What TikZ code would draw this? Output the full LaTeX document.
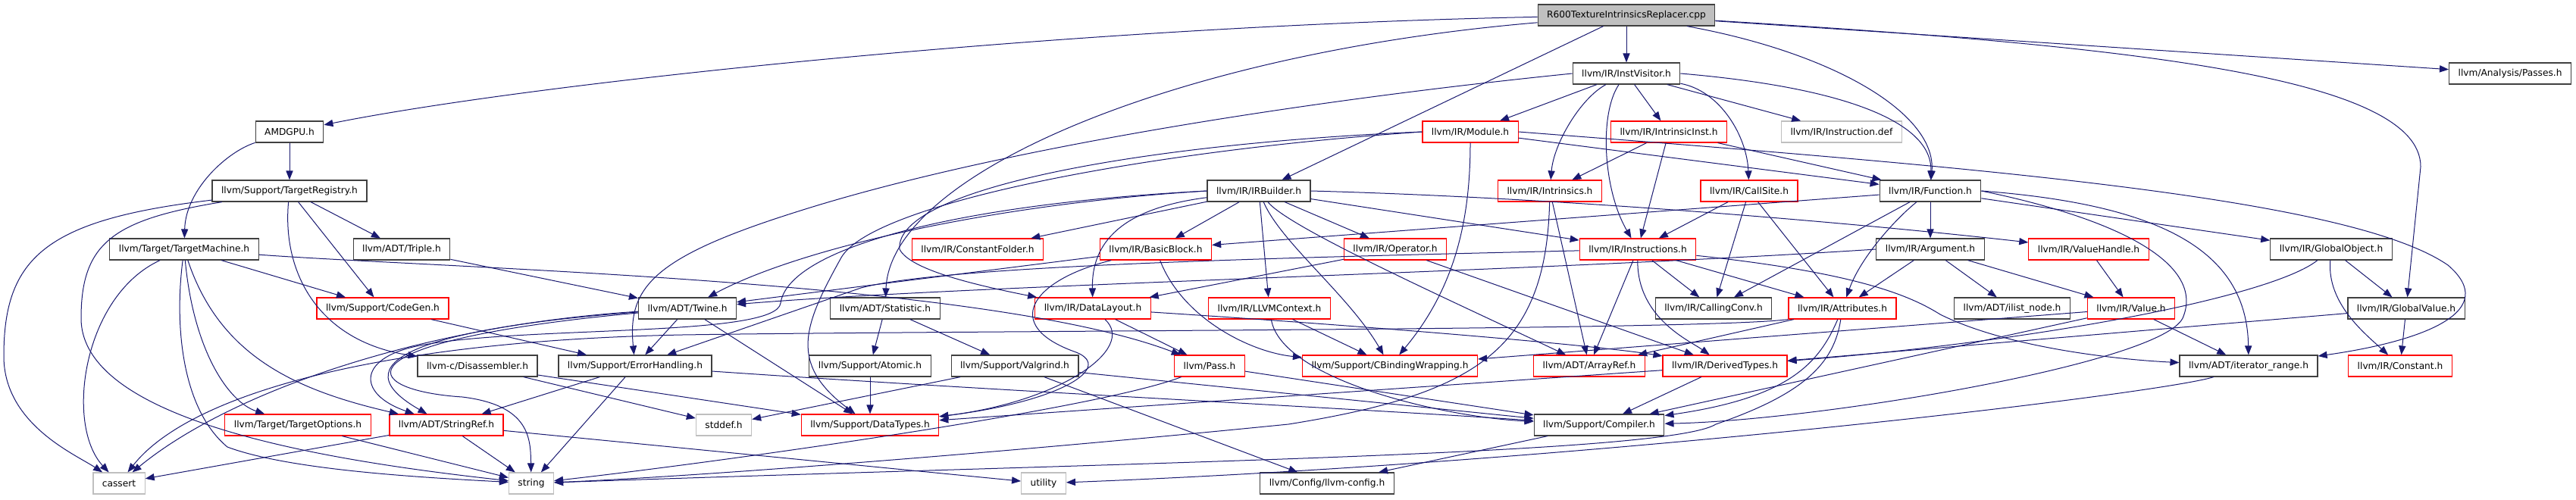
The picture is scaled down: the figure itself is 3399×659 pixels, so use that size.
\documentclass[tikz,border=0pt]{standalone}
\usepackage{fontspec}
\setmainfont{DejaVu Sans}
\usetikzlibrary{arrows.meta}
\definecolor{edgeblue}{RGB}{25,25,112}
\definecolor{sysgray}{RGB}{191,191,191}

\begin{document}
\begin{tikzpicture}[
    x=0.5pt, y=-0.5pt,
    hdr/.style={rectangle, draw=black!75, fill=white, line width=0.6pt, minimum height=14pt, inner xsep=6pt, inner ysep=0pt, font=\fontsize{6.1pt}{7pt}\selectfont},
    trunc/.style={hdr, draw=red},
    sys/.style={hdr, draw=sysgray},
    rootfile/.style={hdr, fill=sysgray},
    dep/.style={edgeblue, line width=0.5pt, -{Triangle[length=6pt,width=4.6pt]}}
]
    \useasboundingbox (0,0) rectangle (3399,659);

    % --- rank 0 ---
    \node[rootfile] (root) at (2146,20) {R600TextureIntrinsicsReplacer.cpp};

    % --- rank 1 ---
    \node[hdr] (instvisitor) at (2146,97) {llvm/IR/InstVisitor.h};
    \node[hdr] (passes)      at (3312,97) {llvm/Analysis/Passes.h};

    % --- rank 2 ---
    \node[hdr]   (amdgpu)        at (382,174)  {AMDGPU.h};
    \node[trunc] (module)        at (1940,174) {llvm/IR/Module.h};
    \node[trunc] (intrinsicinst) at (2202,174) {llvm/IR/IntrinsicInst.h};
    \node[sys]   (instdef)       at (2430,174) {llvm/IR/Instruction.def};

    % --- rank 3 ---
    \node[hdr]   (targetregistry) at (382,252)  {llvm/Support/TargetRegistry.h};
    \node[hdr]   (irbuilder)      at (1661,252) {llvm/IR/IRBuilder.h};
    \node[trunc] (intrinsics)     at (2045,252) {llvm/IR/Intrinsics.h};
    \node[trunc] (callsite)       at (2308,252) {llvm/IR/CallSite.h};
    \node[hdr]   (function)       at (2547,252) {llvm/IR/Function.h};

    % --- rank 4 ---
    \node[hdr]   (targetmachine)  at (243,329)  {llvm/Target/TargetMachine.h};
    \node[hdr]   (triple)         at (530,329)  {llvm/ADT/Triple.h};
    \node[trunc] (constantfolder) at (1290,329) {llvm/IR/ConstantFolder.h};
    \node[trunc] (basicblock)     at (1525,329) {llvm/IR/BasicBlock.h};
    \node[trunc] (operator)       at (1841,329) {llvm/IR/Operator.h};
    \node[trunc] (instructions)   at (2161,329) {llvm/IR/Instructions.h};
    \node[hdr]   (argument)       at (2547,329) {llvm/IR/Argument.h};
    \node[trunc] (valuehandle)    at (2756,329) {llvm/IR/ValueHandle.h};
    \node[hdr]   (globalobject)   at (3076,329) {llvm/IR/GlobalObject.h};

    % --- rank 5 ---
    \node[trunc] (codegen)     at (505,407)  {llvm/Support/CodeGen.h};
    \node[hdr]   (twine)       at (907,407)  {llvm/ADT/Twine.h};
    \node[hdr]   (statistic)   at (1168,407) {llvm/ADT/Statistic.h};
    \node[trunc] (datalayout)  at (1442,407) {llvm/IR/DataLayout.h};
    \node[trunc] (llvmcontext) at (1675,407) {llvm/IR/LLVMContext.h};
    \node[hdr]   (callingconv) at (2261,407) {llvm/IR/CallingConv.h};
    \node[trunc] (attributes)  at (2431,407) {llvm/IR/Attributes.h};
    \node[hdr]   (ilistnode)   at (2655,407) {llvm/ADT/ilist\_node.h};
    \node[trunc] (value)       at (2812,407) {llvm/IR/Value.h};
    \node[hdr]   (globalvalue) at (3175,407) {llvm/IR/GlobalValue.h};

    % --- rank 6 ---
    \node[hdr]   (disassembler)  at (630,483)  {llvm-c/Disassembler.h};
    \node[hdr]   (errorhandling) at (838,483)  {llvm/Support/ErrorHandling.h};
    \node[hdr]   (atomic)        at (1148,483) {llvm/Support/Atomic.h};
    \node[hdr]   (valgrind)      at (1339,483) {llvm/Support/Valgrind.h};
    \node[trunc] (pass)          at (1596,483) {llvm/Pass.h};
    \node[trunc] (cbinding)      at (1834,483) {llvm/Support/CBindingWrapping.h};
    \node[trunc] (arrayref)      at (2097,483) {llvm/ADT/ArrayRef.h};
    \node[trunc] (derivedtypes)  at (2276,483) {llvm/IR/DerivedTypes.h};
    \node[hdr]   (iterrange)     at (2967,483) {llvm/ADT/iterator\_range.h};
    \node[trunc] (constant)      at (3167,483) {llvm/IR/Constant.h};

    % --- rank 7 ---
    \node[trunc] (targetoptions) at (393,561)  {llvm/Target/TargetOptions.h};
    \node[trunc] (stringref)     at (589,561)  {llvm/ADT/StringRef.h};
    \node[sys]   (stddef)        at (955,561)  {stddef.h};
    \node[trunc] (datatypes)     at (1148,561) {llvm/Support/DataTypes.h};
    \node[hdr]   (compiler)      at (2110,561) {llvm/Support/Compiler.h};

    % --- rank 8 ---
    \node[sys] (cassert)    at (157,638)  {cassert};
    \node[sys] (string)     at (701,638)  {string};
    \node[sys] (utility)    at (1377,638) {utility};
    \node[hdr] (llvmconfig) at (1751,638) {llvm/Config/llvm-config.h};

    % --- from the .cpp file ---
    \draw[dep] (root) .. controls (1400,35) and (700,110) .. (amdgpu);
    \draw[dep] (root) .. controls (1550,70) and (1175,230) .. (statistic);
    \draw[dep] (root) -- (irbuilder);
    \draw[dep] (root) -- (instvisitor);
    \draw[dep] (root) .. controls (2420,70) and (2555,150) .. (function);
    \draw[dep] (root) -- (passes);
    \draw[dep] (root) .. controls (2800,60) and (3194,100) .. (3194,220) -- (globalvalue);

    % --- AMDGPU.h and the target headers ---
    \draw[dep] (amdgpu) -- (targetregistry);
    \draw[dep] (amdgpu) .. controls (300,200) and (245,250) .. (targetmachine);
    \draw[dep] (targetregistry) -- (triple);
    \draw[dep] (targetregistry) .. controls (372,360) and (420,450) .. (disassembler);
    \draw[dep] (targetregistry) -- (codegen);
    \draw[dep] (targetregistry) .. controls (60,290) and (5,340) .. (5,470) .. controls (5,560) and (100,600) .. (cassert);
    \draw[dep] (targetregistry) .. controls (150,290) and (107,320) .. (107,420) .. controls (107,560) and (450,610) .. (string);
    \draw[dep] (targetmachine) .. controls (110,390) and (85,560) .. (cassert);
    \draw[dep] (targetmachine) .. controls (230,430) and (240,540) .. (300,590) .. controls (380,620) and (550,630) .. (string);
    \draw[dep] (targetmachine) .. controls (255,460) and (300,530) .. (targetoptions);
    \draw[dep] (targetmachine) .. controls (290,470) and (390,515) .. (stringref);
    \draw[dep] (targetmachine) -- (codegen);
    \draw[dep] (targetmachine) .. controls (600,355) and (1300,370) .. (pass);
    \draw[dep] (triple) -- (twine);
    \draw[dep] (codegen) -- (errorhandling);
    \draw[dep] (disassembler) -- (stddef);
    \draw[dep] (disassembler) -- (datatypes);
    \draw[dep] (targetoptions) -- (string);

    % --- ADT and Support ---
    \draw[dep] (twine) -- (errorhandling);
    \draw[dep] (twine) -- (datatypes);
    \draw[dep] (twine) .. controls (600,430) and (430,470) .. (stringref);
    \draw[dep] (twine) .. controls (550,430) and (300,520) .. (cassert);
    \draw[dep] (twine) .. controls (440,450) and (470,515) .. (610,524) .. controls (700,535) and (700,580) .. (string);
    \draw[dep] (errorhandling) -- (stringref);
    \draw[dep] (errorhandling) -- (string);
    \draw[dep] (errorhandling) .. controls (1300,515) and (1800,540) .. (compiler);
    \draw[dep] (stringref) -- (cassert);
    \draw[dep] (stringref) -- (string);
    \draw[dep] (stringref) -- (utility);
    \draw[dep] (statistic) -- (atomic);
    \draw[dep] (statistic) -- (valgrind);
    \draw[dep] (atomic) -- (datatypes);
    \draw[dep] (valgrind) -- (stddef);
    \draw[dep] (valgrind) -- (llvmconfig);
    \draw[dep] (valgrind) -- (compiler);
    \draw[dep] (compiler) -- (llvmconfig);
    \draw[dep] (iterrange) .. controls (2850,520) and (2100,610) .. (utility);

    % --- InstVisitor.h ---
    \draw[dep] (instvisitor) -- (module);
    \draw[dep] (instvisitor) .. controls (2085,130) and (2050,190) .. (intrinsics);
    \draw[dep] (instvisitor) .. controls (2110,150) and (2115,250) .. (instructions);
    \draw[dep] (instvisitor) -- (intrinsicinst);
    \draw[dep] (instvisitor) -- (instdef);
    \draw[dep] (instvisitor) .. controls (2270,120) and (2305,180) .. (callsite);
    \draw[dep] (instvisitor.east) .. controls (2430,115) and (2550,160) .. (function);
    \draw[dep] (instvisitor.west) .. controls (1700,135) and (1300,200) .. (1050,280) .. controls (860,340) and (828,380) .. (errorhandling);

    % --- Module.h, IntrinsicInst.h, Intrinsics.h, CallSite.h ---
    \draw[dep] (module) -- (function);
    \draw[dep] (module.east) .. controls (2600,220) and (3100,260) .. (3230,350) .. controls (3300,410) and (3200,450) .. (iterrange);
    \draw[dep] (module.west) .. controls (1500,190) and (1180,250) .. (1187,329) .. controls (1200,355) and (1280,375) .. (datalayout);
    \draw[dep] (module) .. controls (1940,290) and (1920,380) .. (cbinding);
    \draw[dep] (module.west) .. controls (1500,200) and (1150,270) .. (1110,340) .. controls (1060,430) and (1040,480) .. (datatypes);
    \draw[dep] (intrinsicinst) -- (function);
    \draw[dep] (intrinsicinst) -- (instructions);
    \draw[dep] (intrinsicinst) -- (intrinsics);
    \draw[dep] (intrinsics) -- (arrayref);
    \draw[dep] (intrinsics) .. controls (2040,460) and (1950,520) .. (1700,560) .. controls (1300,600) and (900,630) .. (string);
    \draw[dep] (callsite) -- (instructions);
    \draw[dep] (callsite) -- (callingconv);
    \draw[dep] (callsite) -- (attributes);

    % --- IRBuilder.h ---
    \draw[dep] (irbuilder.west) .. controls (1300,270) and (1050,330) .. (twine);
    \draw[dep] (irbuilder.west) .. controls (1250,270) and (1040,330) .. (1030,400) .. controls (1025,445) and (700,430) .. (560,455) .. controls (470,470) and (470,520) .. (stringref);
    \draw[dep] (irbuilder) -- (constantfolder);
    \draw[dep] (irbuilder) .. controls (1480,275) and (1440,320) .. (datalayout);
    \draw[dep] (irbuilder) -- (basicblock);
    \draw[dep] (irbuilder) -- (llvmcontext);
    \draw[dep] (irbuilder) -- (operator);
    \draw[dep] (irbuilder) -- (instructions);
    \draw[dep] (irbuilder.east) .. controls (2100,262) and (2500,300) .. (valuehandle);
    \draw[dep] (irbuilder) .. controls (1700,300) and (1900,390) .. (arrayref);
    \draw[dep] (irbuilder) .. controls (1690,320) and (1780,390) .. (cbinding);

    % --- BasicBlock.h, DataLayout.h, Operator.h, LLVMContext.h, Pass.h ---
    \draw[dep] (basicblock) -- (twine);
    \draw[dep] (basicblock) .. controls (1560,420) and (1650,465) .. (cbinding);
    \draw[dep] (basicblock) .. controls (1360,370) and (1320,430) .. (1420,465) .. controls (1470,485) and (1400,530) .. (datatypes);
    \draw[dep] (datalayout) -- (pass);
    \draw[dep] (datalayout) .. controls (1500,460) and (1400,530) .. (datatypes);
    \draw[dep] (datalayout) .. controls (1800,430) and (2100,455) .. (derivedtypes);
    \draw[dep] (operator) -- (datalayout);
    \draw[dep] (operator) -- (derivedtypes);
    \draw[dep] (llvmcontext) -- (cbinding);
    \draw[dep] (llvmcontext) .. controls (1690,500) and (1900,550) .. (compiler);
    \draw[dep] (pass) -- (compiler);
    \draw[dep] (pass) .. controls (1450,540) and (950,610) .. (string);
    \draw[dep] (derivedtypes) -- (compiler);
    \draw[dep] (derivedtypes) -- (datatypes);

    % --- Instructions.h ---
    \draw[dep] (instructions) -- (arrayref);
    \draw[dep] (instructions) -- (callingconv);
    \draw[dep] (instructions) .. controls (2160,420) and (2230,450) .. (derivedtypes);
    \draw[dep] (instructions) -- (attributes);
    \draw[dep] (instructions) .. controls (2450,360) and (2520,390) .. (2560,415) .. controls (2650,460) and (2800,475) .. (iterrange);
    \draw[dep] (instructions) .. controls (1700,340) and (1250,350) .. (1136,380) -- (errorhandling);

    % --- Function.h, Argument.h, values and globals ---
    \draw[dep] (function) -- (argument);
    \draw[dep] (function) -- (basicblock);
    \draw[dep] (function) -- (callingconv);
    \draw[dep] (function) .. controls (2500,290) and (2455,340) .. (attributes);
    \draw[dep] (function) -- (globalobject);
    \draw[dep] (function.east) .. controls (2850,270) and (2965,330) .. (iterrange);
    \draw[dep] (function.east) .. controls (2800,290) and (2910,350) .. (2880,420) .. controls (2850,480) and (2400,555) .. (compiler);
    \draw[dep] (argument) -- (attributes);
    \draw[dep] (argument) -- (ilistnode);
    \draw[dep] (argument) -- (value);
    \draw[dep] (argument.west) .. controls (2000,360) and (1300,375) .. (twine);
    \draw[dep] (valuehandle) -- (value);
    \draw[dep] (value) -- (iterrange);
    \draw[dep] (value) -- (cbinding);
    \draw[dep] (value) -- (compiler);
    \draw[dep] (attributes) -- (arrayref);
    \draw[dep] (attributes) .. controls (2400,480) and (2360,525) .. (compiler);
    \draw[dep] (attributes) .. controls (2420,480) and (2380,520) .. (2264,560) .. controls (2200,600) and (1500,610) .. (string);
    \draw[dep] (attributes.south west) .. controls (2250,436) and (1300,436) .. (900,442) .. controls (500,450) and (250,520) .. (cassert);
    \draw[dep] (globalobject) .. controls (3070,400) and (3120,440) .. (constant);
    \draw[dep] (globalobject) -- (globalvalue);
    \draw[dep] (globalobject) .. controls (3000,390) and (2700,450) .. (derivedtypes);
    \draw[dep] (globalvalue) -- (constant);
    \draw[dep] (globalvalue) -- (derivedtypes);

\end{tikzpicture}
\end{document}
